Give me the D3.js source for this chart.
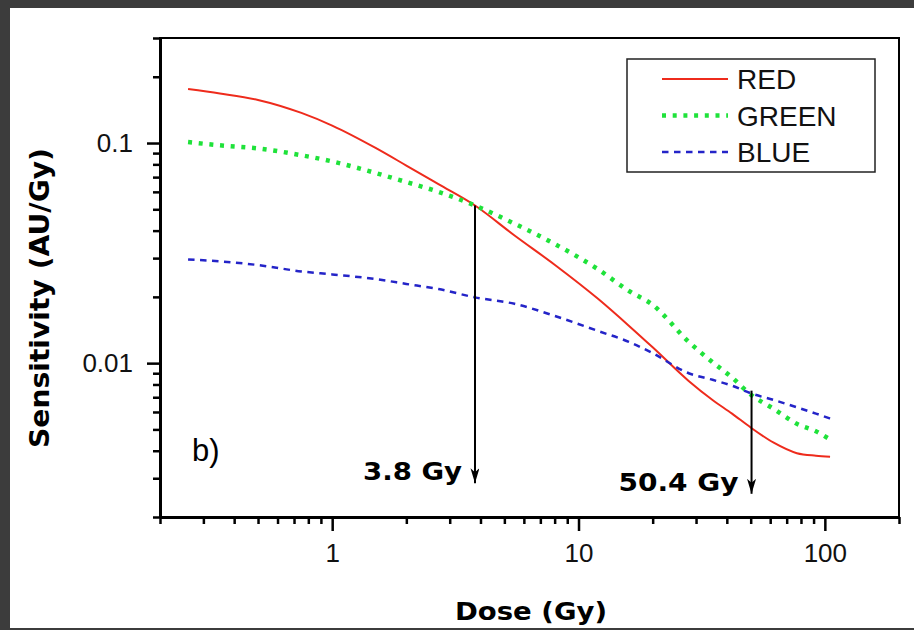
<!DOCTYPE html>
<html>
<head>
<meta charset="utf-8">
<script src="https://cdn.jsdelivr.net/npm/d3@7"></script>
<style>
  html, body { margin: 0; padding: 0; background: #3c3c3c; }
  svg { display: block; }
</style>
</head>
<body>
<svg id="chart" width="914" height="630"></svg>
<script>
// DATA
const dose  = [0.26, 0.35, 0.5, 0.75, 1, 1.5, 2, 2.7, 3.8, 5.5, 8, 12, 16, 20, 28, 35, 42, 50, 62, 77, 92, 105];
const red   = [0.176, 0.168, 0.157, 0.137, 0.120, 0.095, 0.079, 0.065, 0.052, 0.038, 0.028, 0.0196, 0.0148, 0.0118, 0.0083, 0.0068, 0.0059, 0.0051, 0.00435, 0.0039, 0.0038, 0.00376];
const green = [0.101, 0.0976, 0.0945, 0.088, 0.0825, 0.0731, 0.0665, 0.060, 0.052, 0.043, 0.0348, 0.0267, 0.0213, 0.0184, 0.0125, 0.0101, 0.0086, 0.0072, 0.0062, 0.0053, 0.0049, 0.0045];
const blue  = [0.0296, 0.029, 0.0279, 0.0261, 0.0253, 0.0241, 0.0229, 0.0217, 0.0199, 0.0186, 0.0164, 0.0140, 0.0125, 0.0111, 0.0090, 0.0084, 0.0079, 0.0073, 0.0068, 0.0063, 0.0059, 0.0056];
const seriesNames = ["RED", "GREEN", "BLUE"];

const xMajorTicks = [1, 10, 100];
const xMinorTicks = [0.2, 0.3, 0.4, 0.5, 0.6, 0.7, 0.8, 0.9, 2, 3, 4, 5, 6, 7, 8, 9, 20, 30, 40, 50, 60, 70, 80, 90, 200];
const yMajorTicks = [0.01, 0.1];
const yMinorTicks = [0.002, 0.003, 0.004, 0.005, 0.006, 0.007, 0.008, 0.009, 0.02, 0.03, 0.04, 0.05, 0.06, 0.07, 0.08, 0.09, 0.2, 0.3];

const arrowDose   = [3.8, 50.4];
const arrowFrom   = [0.052, 0.0075];
const arrowTo     = [0.00285, 0.00255];
const arrowLabels = ["3.8 Gy", "50.4 Gy"];

// DIMENSIONS
const PLOT = { left: 160, right: 899, top: 38, bottom: 517 };

const svg = d3.select("#chart");

// white panel on the dark background
svg.append("rect").attr("x", 10).attr("y", 8).attr("width", 904).attr("height", 620).attr("fill", "white");

// SCALES
const x = d3.scaleLog().domain([0.2, 200]).range([PLOT.left, PLOT.right]);
const y = d3.scaleLog().domain([0.002, 0.3]).range([PLOT.bottom, PLOT.top]);

// frame (top + right thinner)
svg.append("rect")
  .attr("x", PLOT.left).attr("y", PLOT.top)
  .attr("width", PLOT.right - PLOT.left).attr("height", PLOT.bottom - PLOT.top)
  .attr("fill", "none").attr("stroke", "black").attr("stroke-width", 2);

const tickFont = "Liberation Sans, Arial, sans-serif";
const boldFont = "DejaVu Sans, sans-serif";

const styleAxis = (g, width) => {
  g.select(".domain").attr("stroke-width", width);
  g.selectAll(".tick line").attr("stroke-width", 2.5);
};

// x axis: minor and major ticks
svg.append("g")
  .attr("transform", `translate(0,${PLOT.bottom})`)
  .call(d3.axisBottom(x).tickValues(xMinorTicks).tickSize(7).tickSizeOuter(0).tickFormat(""))
  .call(g => styleAxis(g, 3));

svg.append("g")
  .attr("transform", `translate(0,${PLOT.bottom})`)
  .call(d3.axisBottom(x).tickValues(xMajorTicks).tickSize(14).tickSizeOuter(0).tickPadding(13).tickFormat(d3.format("d")))
  .call(g => styleAxis(g, 3))
  .call(g => g.selectAll("text").attr("font-family", tickFont).attr("font-size", 26).attr("fill", "#111"));

// y axis
svg.append("g")
  .attr("transform", `translate(${PLOT.left},0)`)
  .call(d3.axisLeft(y).tickValues(yMinorTicks).tickSize(7).tickSizeOuter(0).tickFormat(""))
  .call(g => styleAxis(g, 3));

svg.append("g")
  .attr("transform", `translate(${PLOT.left},0)`)
  .call(d3.axisLeft(y).tickValues(yMajorTicks).tickSize(13).tickSizeOuter(0).tickPadding(14).tickFormat(d => d))
  .call(g => styleAxis(g, 3))
  .call(g => g.selectAll("text").attr("font-family", tickFont).attr("font-size", 26).attr("fill", "#111"));

// axis titles
svg.append("text")
  .attr("transform", "translate(49,298) rotate(-90)")
  .attr("text-anchor", "middle")
  .attr("font-family", boldFont)
  .attr("font-weight", "bold")
  .attr("font-size", 26)
  .attr("textLength", 300)
  .attr("lengthAdjust", "spacingAndGlyphs")
  .text("Sensitivity (AU/Gy)");

svg.append("text")
  .attr("x", 531).attr("y", 620)
  .attr("text-anchor", "middle")
  .attr("font-family", boldFont)
  .attr("font-weight", "bold")
  .attr("font-size", 25)
  .attr("textLength", 152)
  .attr("lengthAdjust", "spacingAndGlyphs")
  .text("Dose (Gy)");

// SERIES
const series = [
  { name: seriesNames[0], values: red,   color: "#ee2b1c", width: 2,   dash: null },
  { name: seriesNames[1], values: green, color: "#1fe23a", width: 4.5, dash: "4,6.7" },
  { name: seriesNames[2], values: blue,  color: "#2424c8", width: 2.5, dash: "6.5,5.5" }
];

const line = d3.line()
  .x((d, i) => x(dose[i]))
  .y(d => y(d))
  .curve(d3.curveMonotoneX);

svg.append("g")
  .selectAll("path")
  .data(series)
  .join("path")
  .attr("d", d => line(d.values))
  .attr("fill", "none")
  .attr("stroke", d => d.color)
  .attr("stroke-width", d => d.width)
  .attr("stroke-dasharray", d => d.dash);

// ANNOTATIONS
svg.append("defs").append("marker")
  .attr("id", "arrow")
  .attr("viewBox", "0 -4.5 15 9")
  .attr("refX", 15).attr("refY", 0)
  .attr("markerWidth", 15).attr("markerHeight", 9)
  .attr("markerUnits", "userSpaceOnUse")
  .attr("orient", "auto")
  .append("path")
  .attr("d", "M0,-4.5 L15,0 L0,4.5 L4,0 Z")
  .attr("fill", "black");

const labelWidths = [99, 120];
const annot = svg.append("g");
arrowDose.forEach((d, i) => {
  annot.append("line")
    .attr("x1", x(d)).attr("x2", x(d))
    .attr("y1", y(arrowFrom[i])).attr("y2", y(arrowTo[i]))
    .attr("stroke", "black").attr("stroke-width", 2)
    .attr("marker-end", "url(#arrow)");
  annot.append("text")
    .attr("x", x(d) - 13 - labelWidths[i]).attr("y", y(arrowTo[i]) - 3)
    .attr("font-family", boldFont)
    .attr("font-weight", "bold")
    .attr("font-size", 24)
    .attr("textLength", labelWidths[i])
    .attr("lengthAdjust", "spacingAndGlyphs")
    .text(arrowLabels[i]);
});

annot.append("text")
  .attr("x", x(0.27)).attr("y", y(0.0036))
  .attr("font-family", tickFont)
  .attr("font-size", 31)
  .text("b)");

// LEGEND
const legend = svg.append("g").attr("transform", "translate(627,59)");
legend.append("rect")
  .attr("width", 248).attr("height", 113)
  .attr("fill", "white").attr("stroke", "#222").attr("stroke-width", 1.5);

const rows = legend.selectAll("g.row")
  .data(series)
  .join("g")
  .attr("class", "row")
  .attr("transform", (d, i) => `translate(0,${20 + i * 36.5})`);

rows.append("line")
  .attr("x1", 35).attr("x2", 101)
  .attr("stroke", d => d.color)
  .attr("stroke-width", d => d.width)
  .attr("stroke-dasharray", d => d.dash);

rows.append("text")
  .attr("x", 110).attr("y", 10)
  .attr("font-family", tickFont)
  .attr("font-size", 28)
  .attr("fill", "#111")
  .text(d => d.name);
</script>
</body>
</html>
